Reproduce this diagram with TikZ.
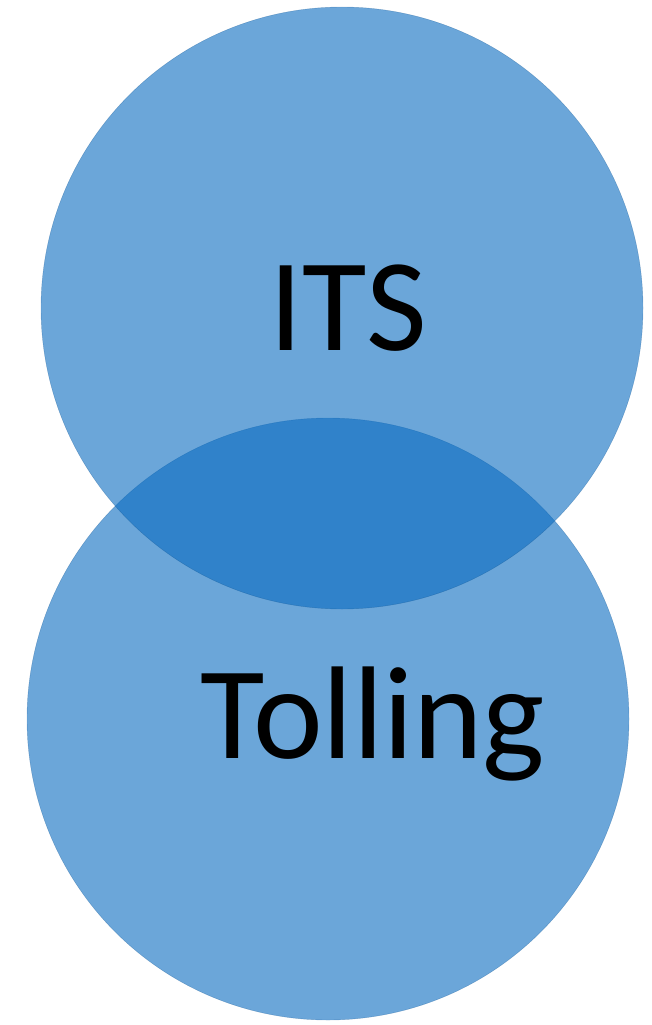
\documentclass[tikz,border=0pt]{standalone}
\usepackage{fontspec}
\setmainfont{Carlito}
\usepackage{tikz}
\usepackage{xcolor}
\definecolor{venn-blue}{RGB}{8,106,192}
\tikzset{
    venn-circle/.style = {circle, fill=venn-blue, fill opacity=0.6, draw=venn-blue!70!black, draw opacity=0.35, thin, minimum size=602pt, inner sep=0pt},
    venn-label/.style = {text=black, font=\fontsize{132}{140}\selectfont, anchor=base, inner sep=0pt},
}

\begin{document}
\begin{tikzpicture}[x=1pt, y=-1pt]
\useasboundingbox (0,0) rectangle (651,1025);
\node [venn-circle] (tolling-set) at (328,719) {};
\node [venn-circle] (its-set) at (342,308) {};
\node [venn-label] (its-text) at (348,350) {ITS};
\node [venn-label] (tolling-text) at (373,758) {Tolling};
\end{tikzpicture}
\end{document}
